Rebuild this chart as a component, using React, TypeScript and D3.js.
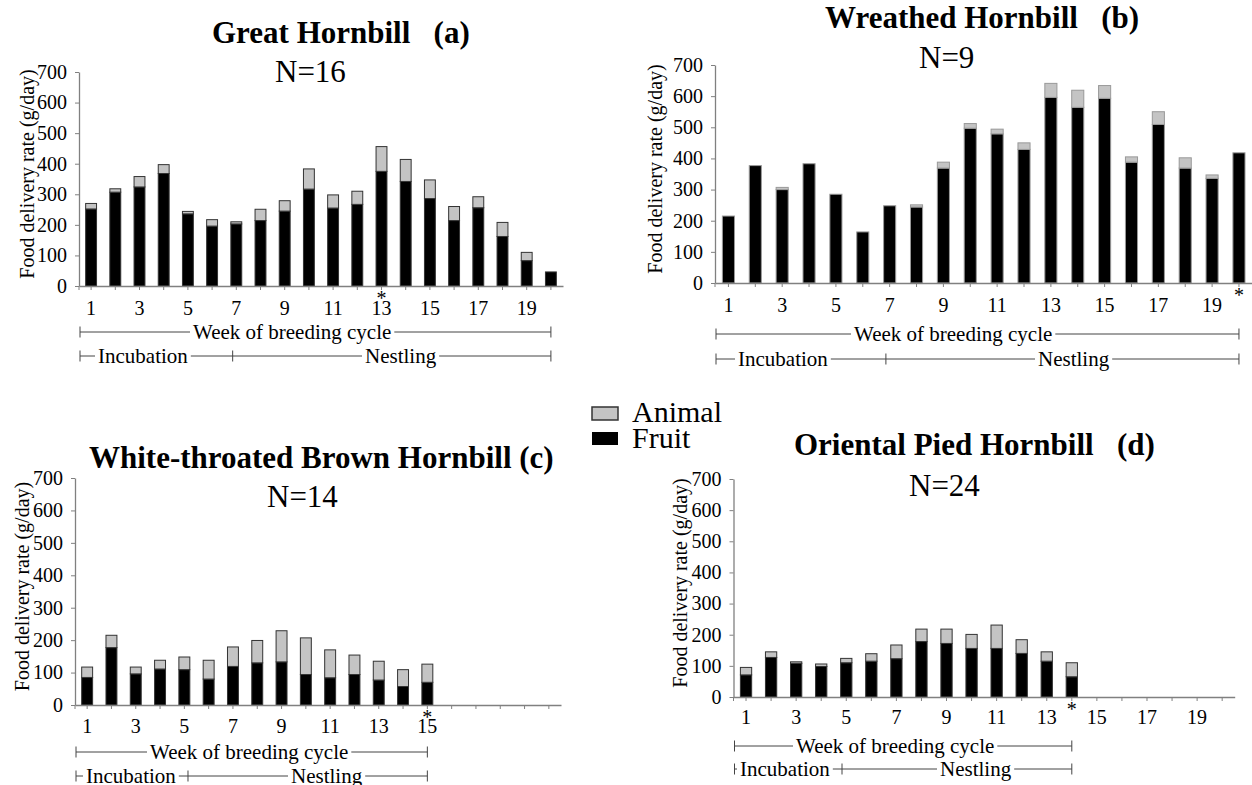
import React, { useEffect, useRef } from 'react'
import * as d3 from 'd3'

// week categories and tick labels
const weeks = ['1', '2', '3', '4', '5', '6', '7', '8', '9', '10', '11', '12', '13', '14', '15', '16', '17', '18', '19', '20']
const labelsTo19 = ['1', '3', '5', '7', '9', '11', '13', '15', '17', '19']
const labelsTo15 = ['1', '3', '5', '7', '9', '11', '13', '15']
const yTicks = [0, 100, 200, 300, 400, 500, 600, 700]

// food delivery (g/day)
const greatFruit = [252, 307, 324, 368, 236, 196, 203, 214, 245, 317, 255, 267, 375, 342, 286, 214, 256, 162, 83, 46]
const greatAnimal = [18, 11, 34, 29, 8, 21, 7, 37, 34, 66, 43, 43, 81, 72, 61, 46, 36, 46, 27, 0]

const wreathedFruit = [215, 377, 300, 383, 285, 164, 248, 244, 369, 497, 479, 429, 596, 564, 593, 388, 509, 369, 336, 418]
const wreathedAnimal = [0, 0, 7, 0, 0, 0, 0, 7, 19, 15, 15, 21, 45, 55, 41, 17, 41, 33, 11, 0]

const brownFruit = [85, 177, 96, 111, 109, 80, 119, 130, 133, 94, 84, 94, 77, 57, 70]
const brownAnimal = [32, 38, 21, 27, 39, 58, 60, 69, 96, 113, 86, 60, 58, 52, 56]

const piedFruit = [71, 127, 108, 98, 110, 115, 123, 178, 172, 156, 156, 140, 115, 65]
const piedAnimal = [24, 18, 5, 8, 14, 24, 44, 40, 46, 45, 75, 44, 30, 45]

const FONT = '"Liberation Serif", "Times New Roman", Times, serif'
const ANIMAL_COLOR = '#c4c4c4'
const AXIS_COLOR = '#808080'

const panels = [
  {
    title: 'Great Hornbill   (a)', n: 'N=16', fruit: greatFruit, animal: greatAnimal, labels: labelsTo19,
    x0: 79, step: 24.2, y0: 286, y700: 72, yTitleX: 34, titleX: 212, titleY: 43, nX: 275, nY: 82,
    labelOff: 29, star: '13', lastWeek: 20, barStroke: '#333',
    weekY: 332, weekX: 193, incY: 356, incX: 98, incEnd: 6.85, nestX: 365
  },
  {
    title: 'Wreathed Hornbill   (b)', n: 'N=9', fruit: wreathedFruit, animal: wreathedAnimal, labels: labelsTo19,
    x0: 715, step: 26.87, y0: 283, y700: 65, yTitleX: 662, titleX: 825, titleY: 28, nX: 919, nY: 68,
    labelOff: 29, star: '20', lastWeek: 20, barStroke: '#999',
    weekY: 334, weekX: 854, incY: 359, incX: 738, incEnd: 6.86, nestX: 1038
  },
  {
    title: 'White-throated Brown Hornbill (c)', n: 'N=14', fruit: brownFruit, animal: brownAnimal, labels: labelsTo15,
    x0: 75, step: 24.3, y0: 705, y700: 478, yTitleX: 29, titleX: 89, titleY: 468, nX: 267, nY: 507,
    labelOff: 28, star: '15', lastWeek: 15, barStroke: '#333',
    weekY: 752, weekX: 150, incY: 776, incX: 86, incEnd: 5.15, nestX: 291
  },
  {
    title: 'Oriental Pied Hornbill   (d)', n: 'N=24', fruit: piedFruit, animal: piedAnimal, labels: labelsTo19,
    x0: 733.5, step: 25.06, y0: 697, y700: 479, yTitleX: 687, titleX: 794, titleY: 455, nX: 909, nY: 496,
    labelOff: 27, star: '14', lastWeek: 14, barStroke: '#333',
    weekY: 746, weekX: 796, incY: 769, incX: 740, incEnd: 4.83, nestX: 940
  }
]

// one row of the bracket under the x axis: ticks, line, and texts cut into the line
function bracketRow(g, yLine, left, right, texts, midTicks) {
  const cuts = []
  texts.forEach(t => {
    const node = g.append('text')
      .attr('x', t.x)
      .attr('y', yLine + 7)
      .attr('font-size', 21)
      .attr('fill', '#000')
      .text(t.text)
      .node()
    const w = node.getComputedTextLength()
    cuts.push([t.x - 3, t.x + w + 3])
  })
  cuts.sort((a, b) => a[0] - b[0])
  let start = left
  cuts.forEach(([a, b]) => {
    if (a > start + 2) {
      g.append('line').attr('x1', start).attr('x2', a).attr('y1', yLine).attr('y2', yLine)
        .attr('stroke', '#444').attr('stroke-width', 1)
    }
    start = Math.max(start, b)
  })
  if (right > start) {
    g.append('line').attr('x1', start).attr('x2', right).attr('y1', yLine).attr('y2', yLine)
      .attr('stroke', '#444').attr('stroke-width', 1)
  }
  ;[left, right, ...midTicks].forEach(xp => {
    g.append('line').attr('x1', xp).attr('x2', xp).attr('y1', yLine - 5.5).attr('y2', yLine + 5.5)
      .attr('stroke', '#444').attr('stroke-width', 1)
  })
}

function drawPanel(svg, p) {
  const g = svg.append('g')

  const x = d3.scaleBand()
    .domain(weeks)
    .range([p.x0, p.x0 + weeks.length * p.step])
    .paddingInner(0.55)
    .paddingOuter(0.275)
  const y = d3.scaleLinear().domain([0, 700]).range([p.y0, p.y700])

  // stacked bars
  const rows = p.fruit.map((f, i) => ({ week: weeks[i], fruit: f, animal: p.animal[i] }))
  const series = d3.stack().keys(['fruit', 'animal'])(rows)
  g.selectAll('g.series')
    .data(series)
    .join('g')
    .attr('class', 'series')
    .attr('fill', d => d.key === 'fruit' ? '#000' : ANIMAL_COLOR)
    .selectAll('rect')
    .data(d => d.filter(s => s[1] > s[0]))
    .join('rect')
    .attr('x', d => x(d.data.week))
    .attr('width', x.bandwidth())
    .attr('y', d => y(d[1]))
    .attr('height', d => y(d[0]) - y(d[1]))
    .attr('stroke', p.barStroke)
    .attr('stroke-width', 1)

  // y axis
  const yAxis = g.append('g')
    .attr('transform', `translate(${p.x0},0)`)
    .call(d3.axisLeft(y).tickValues(yTicks).tickSize(4).tickSizeOuter(0).tickPadding(8))
  yAxis.select('.domain').attr('stroke', AXIS_COLOR).attr('stroke-width', 1.3)
  yAxis.selectAll('.tick line').attr('stroke', AXIS_COLOR)
  yAxis.selectAll('.tick text').attr('font-size', 20).attr('font-family', FONT).attr('fill', '#000')

  // x axis
  const xAxis = g.append('g')
    .attr('transform', `translate(0,${p.y0})`)
    .call(d3.axisBottom(x)
      .tickSize(4)
      .tickSizeOuter(0)
      .tickPadding(p.labelOff - 4 - 14.2)
      .tickFormat(d => p.labels.includes(d) ? d : ''))
  xAxis.select('.domain').attr('stroke', AXIS_COLOR).attr('stroke-width', 1.3)
  xAxis.selectAll('.tick line').attr('stroke', AXIS_COLOR)
  xAxis.selectAll('.tick text').attr('font-size', 20).attr('font-family', FONT).attr('fill', '#000')
  g.append('line')
    .attr('x1', p.x0).attr('x2', p.x0).attr('y1', p.y0).attr('y2', p.y0 + 4)
    .attr('stroke', AXIS_COLOR)

  // y title
  g.append('text')
    .attr('transform', `translate(${p.yTitleX},${(p.y0 + p.y700) / 2 - 5}) rotate(-90)`)
    .attr('text-anchor', 'middle')
    .attr('font-size', 20)
    .text('Food delivery rate (g/day)')

  // titles
  g.append('text')
    .attr('x', p.titleX).attr('y', p.titleY)
    .attr('font-size', 31).attr('font-weight', 'bold')
    .style('white-space', 'pre')
    .text(p.title)
  g.append('text')
    .attr('x', p.nX).attr('y', p.nY)
    .attr('font-size', 31)
    .text(p.n)

  // asterisk
  g.append('text')
    .attr('x', x(p.star) + x.bandwidth() / 2)
    .attr('y', p.y0 + 19)
    .attr('text-anchor', 'middle')
    .attr('font-size', 20)
    .text('*')

  // brackets
  const pos = w => x(weeks[0]) + x.bandwidth() / 2 + (w - 1) * x.step()
  const left = p.x0 + 1
  const right = pos(p.lastWeek)
  bracketRow(g, p.weekY, left, right, [{ text: 'Week of breeding cycle', x: p.weekX }], [])
  bracketRow(g, p.incY, left, right,
    [{ text: 'Incubation', x: p.incX }, { text: 'Nestling', x: p.nestX }],
    [pos(p.incEnd)])
}

export default function App() {
  const ref = useRef(null)

  useEffect(() => {
    const svg = d3.select(ref.current)
    svg.selectAll('*').remove()
    svg.attr('font-family', FONT)

    panels.forEach(p => drawPanel(svg, p))

    // legend
    const legend = svg.append('g')
    legend.append('rect')
      .attr('x', 592).attr('y', 407).attr('width', 26).attr('height', 13)
      .attr('fill', ANIMAL_COLOR).attr('stroke', '#333').attr('stroke-width', 1.5)
    legend.append('rect')
      .attr('x', 592).attr('y', 432).attr('width', 26).attr('height', 13)
      .attr('fill', '#000')
    legend.append('text').attr('x', 632).attr('y', 422).attr('font-size', 30).text('Animal')
    legend.append('text').attr('x', 632).attr('y', 448).attr('font-size', 30).text('Fruit')
  }, [])

  return (
    <svg
      ref={ref}
      width={1252}
      height={785}
      style={{ position: 'absolute', left: 0, top: 0, background: '#fff' }}
    />
  )
}
